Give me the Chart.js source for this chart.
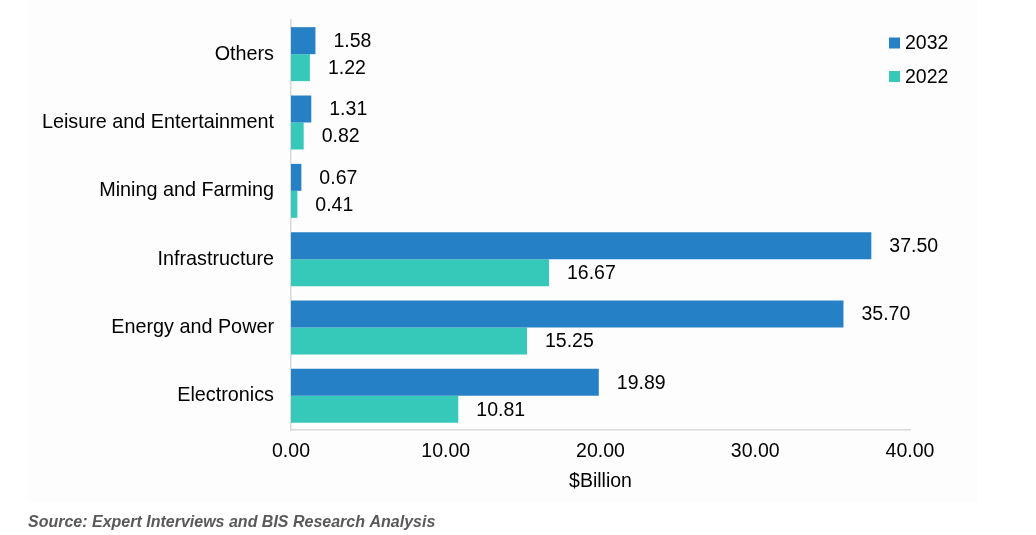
<!DOCTYPE html>
<html>
<head>
<meta charset="utf-8">
<script src="https://cdn.jsdelivr.net/npm/chart.js@4.4.1/dist/chart.umd.min.js"></script>
<style>
  html, body { margin: 0; padding: 0; background: #fff; }
  #wrap { position: relative; width: 1036px; height: 535px; }
</style>
</head>
<body>
<div id="wrap"><canvas id="chart1" width="1036" height="535"></canvas></div>
<script>
const categories = ["Others", "Leisure and Entertainment", "Mining and Farming", "Infrastructure", "Energy and Power", "Electronics"];
const values2032 = [1.58, 1.31, 0.67, 37.50, 35.70, 19.89];
const values2022 = [1.22, 0.82, 0.41, 16.67, 15.25, 10.81];
const seriesNames = ["2032", "2022"];
const xTicks = [0, 10, 20, 30, 40];

const FONT = "'Liberation Sans', Arial, sans-serif";

// faint panel behind the chart + source note
const backdrop = {
  id: "backdrop",
  beforeDraw(chart) {
    const ctx = chart.ctx;
    ctx.save();
    ctx.fillStyle = "#fdfdfd";
    ctx.fillRect(27, 0, 951, 502);
    ctx.restore();
  },
  afterDraw(chart) {
    const ctx = chart.ctx;
    ctx.save();
    ctx.font = "italic bold 16px " + FONT;
    ctx.fillStyle = "#595959";
    ctx.textAlign = "left";
    ctx.textBaseline = "middle";
    ctx.fillText("Source: Expert Interviews and BIS Research Analysis", 28, 523);
    ctx.restore();
  },
};

// value labels next to each bar
const barLabels = {
  id: "barLabels",
  afterDatasetsDraw(chart) {
    const ctx = chart.ctx;
    ctx.save();
    ctx.font = "19.5px " + FONT;
    ctx.fillStyle = "#000";
    ctx.textAlign = "left";
    ctx.textBaseline = "middle";
    chart.data.datasets.forEach((ds, i) => {
      chart.getDatasetMeta(i).data.forEach((bar, j) => {
        ctx.fillText(ds.data[j].toFixed(2), bar.x + 18, bar.y + 1);
      });
    });
    ctx.restore();
  },
};

// legend in the top right corner
const cornerLegend = {
  id: "cornerLegend",
  afterDraw(chart) {
    const ctx = chart.ctx;
    ctx.save();
    ctx.font = "19.5px " + FONT;
    ctx.textAlign = "left";
    ctx.textBaseline = "middle";
    chart.data.datasets.forEach((ds, i) => {
      const y = 43 + i * 33.5;
      ctx.fillStyle = ds.backgroundColor;
      ctx.fillRect(889, y - 5.5, 11, 11);
      ctx.fillStyle = "#000";
      ctx.fillText(ds.label, 905, y + 1);
    });
    ctx.restore();
  },
};

const ctx = document.getElementById("chart1").getContext("2d");
new Chart(ctx, {
  type: "bar",
  data: {
    labels: categories,
    datasets: [
      { label: seriesNames[0], data: values2032, backgroundColor: "#2680c6" },
      { label: seriesNames[1], data: values2022, backgroundColor: "#36c8b8" },
    ],
  },
  options: {
    indexAxis: "y",
    responsive: false,
    animation: false,
    devicePixelRatio: 1,
    categoryPercentage: 0.79,
    barPercentage: 1,
    layout: { padding: { top: 20, right: 126, bottom: 40, left: 0 } },
    plugins: {
      legend: { display: false },
      tooltip: { enabled: false },
    },
    scales: {
      x: {
        min: 0,
        max: 40,
        afterBuildTicks(scale) {
          scale.ticks = xTicks.map((v) => ({ value: v }));
        },
        afterFit(scale) {
          scale.height = 65;
        },
        grid: { display: false, drawTicks: false },
        border: { display: true, color: "#d9d9d9", width: 1.5 },
        ticks: {
          padding: 10,
          color: "#000",
          font: { family: FONT, size: 19.5 },
          maxRotation: 0,
          callback: (v) => Number(v).toFixed(2),
        },
        title: {
          display: true,
          text: "$Billion",
          color: "#000",
          font: { family: FONT, size: 19.5 },
          padding: { top: 0, bottom: 2 },
        },
      },
      y: {
        afterFit(scale) {
          scale.width = 291;
          scale.paddingTop = 0;
          scale.paddingBottom = 0;
        },
        grid: { display: false, drawTicks: false },
        border: { display: true, color: "#d9d9d9", width: 1.5 },
        ticks: {
          padding: 17,
          color: "#000",
          font: { family: FONT, size: 19.8 },
        },
      },
    },
  },
  plugins: [backdrop, barLabels, cornerLegend],
});
</script>
</body>
</html>
